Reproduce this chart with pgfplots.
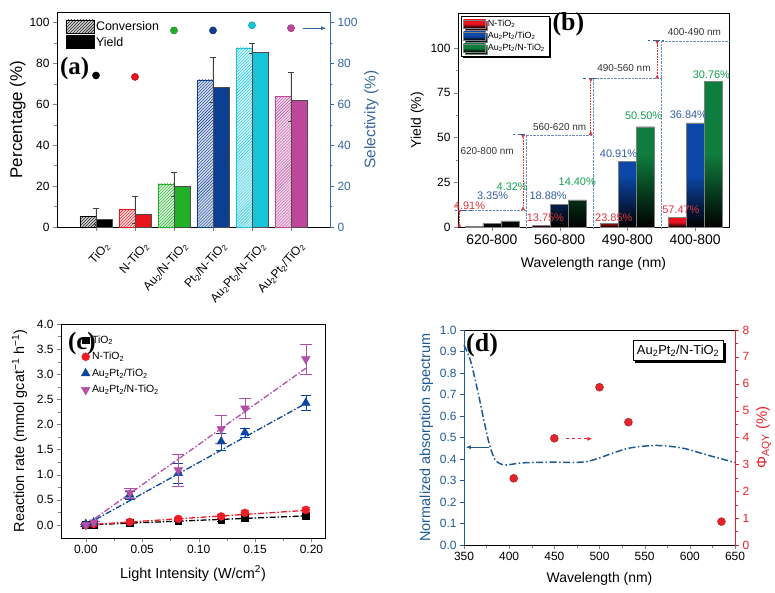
\documentclass[border=0pt]{standalone}
\usepackage{pgfplots}
\pgfplotsset{compat=1.18}
\usepackage{fontspec}
\setmainfont{Liberation Sans}
\newfontfamily\plfont{Liberation Serif}
\usetikzlibrary{patterns,shadows,arrows.meta}
\newcommand{\s}[1]{\textsubscript{#1}}
\newcommand{\fs}[1]{\fontsize{#1}{#1}\selectfont}

\definecolor{aRed}{RGB}{232,22,27}
\definecolor{aGreen}{RGB}{34,176,40}
\definecolor{aNavy}{RGB}{12,62,145}
\definecolor{aCyan}{RGB}{24,196,218}
\definecolor{aMag}{RGB}{190,70,155}
\definecolor{selBlue}{RGB}{52,102,160}
\definecolor{bRed}{RGB}{230,20,30}
\definecolor{bBlue}{RGB}{12,72,170}
\definecolor{bGreen}{RGB}{14,125,62}
\definecolor{tRed}{RGB}{226,50,60}
\definecolor{tBlue}{RGB}{50,95,165}
\definecolor{tGreen}{RGB}{20,160,80}
\definecolor{lvl}{RGB}{110,140,185}
\definecolor{cPink}{RGB}{178,80,168}
\definecolor{cBlue}{RGB}{10,70,160}
\definecolor{cRed}{RGB}{238,28,36}
\definecolor{dBlue}{RGB}{30,90,150}
\definecolor{dRed}{RGB}{230,35,43}

\pgfplotsset{
  every axis/.append style={scale only axis, tick align=outside, clip=false,
    tick label style={font=\fs{12}}, label style={font=\fs{14}},
    /pgf/number format/assume math mode=true,
    major tick length=4bp, minor tick length=2.5bp},
  conv/.style={ybar, bar width=16bp, bar shift=-8bp, draw=#1, fill=#1!20,
    postaction={pattern=north east lines, pattern color=#1},
    error bars/.cd, y dir=both, y explicit,
    error bar style={black!75}, error mark options={rotate=90, mark size=3bp, black!75}},
  yld/.style={ybar, bar width=16bp, bar shift=8bp, draw=black!70, fill=#1},
  gbar/.style={ybar, bar width=18bp, draw=black!50, top color=#1, bottom color=black, middle color=#1},
  ballm/.style={only marks, mark=*, mark options={fill=#1, draw=#1!70!black, line width=0.4bp}},
  fitl/.style={forget plot, #1, line width=1.3bp, dash pattern=on 6bp off 2bp on 1.5bp off 2bp},
}

\begin{document}
\begin{tikzpicture}
\useasboundingbox (0,0) rectangle (775bp,593bp);

% ---------------- (a) ----------------
\begin{axis}[at={(57bp,366bp)}, anchor=south west, width=273bp, height=215bp,
  xmin=0, xmax=7, ymin=0, ymax=105, separate axis lines,
  xtick={1,...,6}, xtick pos=bottom, ytick={0,20,...,100}, ytick pos=left, minor y tick num=1,
  xticklabels={TiO\s2, N-TiO\s2, Au\s2/N-TiO\s2, Pt\s2/N-TiO\s2, Au\s2Pt\s2/N-TiO\s2, Au\s2Pt\s2/TiO\s2},
  xticklabel style={rotate=48, anchor=north east, font=\fs{12}, yshift=-9bp, xshift=1bp},
  ylabel={Percentage (\%)}, ylabel style={font=\fs{17}, yshift=-3bp},
  legend style={at={(0.02,0.975)}, anchor=north west, draw=none, fill=none, font=\fs{12.5}, row sep=1bp},
  legend cell align=left]
\addlegendimage{legend image code/.code={\draw[black, fill=black!20, postaction={pattern=north east lines}] (0bp,-6bp) rectangle (28bp,7bp);}}
\addlegendentry{Conversion}
\addlegendimage{legend image code/.code={\fill[black] (0bp,-6bp) rectangle (28bp,7bp);}}
\addlegendentry{Yield}
\addplot[conv=black] coordinates {(1,5.2) +- (0,3.8)};
\addplot[yld=black] coordinates {(1,3.9)};
\addplot[conv=aRed] coordinates {(2,8.5) +- (0,6.5)};
\addplot[yld=aRed] coordinates {(2,6.4)};
\addplot[conv=aGreen] coordinates {(3,21) +- (0,6)};
\addplot[yld=aGreen] coordinates {(3,19.9)};
\addplot[conv=aNavy] coordinates {(4,71.9) +- (0,11)};
\addplot[yld=aNavy] coordinates {(4,68.3)};
\addplot[conv=aCyan] coordinates {(5,87.5) +- (0,2.5)};
\addplot[yld=aCyan] coordinates {(5,85.6)};
\addplot[conv=aMag] coordinates {(6,63.8) +- (0,12)};
\addplot[yld=aMag] coordinates {(6,61.9)};
\node[font=\plfont\bfseries\fs{25}] at (axis cs:0.45,77.5) {(a)};
\end{axis}
\begin{axis}[at={(57bp,366bp)}, anchor=south west, width=273bp, height=215bp,
  xmin=0, xmax=7, ymin=0, ymax=105, axis x line=none, axis y line*=right,
  ytick={0,20,...,100}, minor y tick num=1,
  y axis line style={selBlue}, ytick style={selBlue}, yticklabel style={selBlue},
  ylabel={Selectivity (\%)}, ylabel style={selBlue, font=\fs{15.5}}]
\addplot[ballm=black, mark size=3.6bp] coordinates {(1,74)};
\addplot[ballm=aRed, mark size=3.6bp] coordinates {(2,73.3)};
\addplot[ballm=aGreen, mark size=3.6bp] coordinates {(3,96)};
\addplot[ballm=aNavy, mark size=3.6bp] coordinates {(4,96)};
\addplot[ballm=aCyan, mark size=3.6bp] coordinates {(5,98.5)};
\addplot[ballm=aMag, mark size=3.6bp] coordinates {(6,97.1)};
\draw[selBlue, thick, -{Latex[length=5bp,width=4bp]}] (axis cs:6.3,97.1) -- (axis cs:6.9,97.1);
\end{axis}

% ---------------- (b) ----------------
\begin{axis}[at={(458bp,366bp)}, anchor=south west, width=271bp, height=214bp,
  xmin=0.5, xmax=4.5, ymin=0, ymax=119.5,
  xtick={1,2,3,4}, xticklabels={620-800,560-800,490-800,400-800}, xtick pos=bottom, minor x tick num=1,
  ytick={0,25,50,75,100}, ytick pos=left, minor y tick num=1,
  xticklabel style={font=\fs{14}},
  xlabel={Wavelength range (nm)}, ylabel={Yield (\%)},
  xlabel style={yshift=-6bp},
  legend style={at={(0.012,0.985)}, anchor=north west, font=\fs{9}, draw=black,
    drop shadow={shadow xshift=2bp, shadow yshift=-2bp, fill=black, opacity=1},
    row sep=0bp, inner sep=2bp},
  legend image code/.code={\draw[#1] (0bp,-3.5bp) rectangle (22bp,4.5bp);},
  legend cell align=left]
\draw[lvl, densely dotted] (axis cs:0.5,9.5) -- (axis cs:1.5,9.5);
\draw[lvl, densely dotted] (axis cs:1.5,0) -- (axis cs:1.5,51.5) -- (axis cs:2.5,51.5);
\draw[lvl, densely dotted] (axis cs:2.5,0) -- (axis cs:2.5,83) -- (axis cs:3.5,83);
\draw[lvl, densely dotted] (axis cs:3.5,0) -- (axis cs:3.5,104) -- (axis cs:4.5,104);
\addplot[gbar=bRed, bar shift=-18bp] coordinates {(1,0.3) (2,0.8) (3,2.2) (4,5.4)};
\addlegendentry{N-TiO\s2}
\addplot[gbar=bBlue, bar shift=0bp] coordinates {(1,1.9) (2,12.8) (3,36.5) (4,58.1)};
\addlegendentry{Au\s2Pt\s2/TiO\s2}
\addplot[gbar=bGreen, bar shift=18bp] coordinates {(1,3.4) (2,15.1) (3,56) (4,81.2)};
\addlegendentry{Au\s2Pt\s2/N-TiO\s2}
\tikzset{rarr/.style={tRed, densely dotted, semithick, {Latex[reversed,length=4bp,width=4bp]}-{Latex[reversed,length=4bp,width=4bp]}}}
\draw[rarr] (axis cs:0.52,0) -- (axis cs:0.52,9.5);
\draw[rarr] (axis cs:1.46,9.5) -- (axis cs:1.46,51.5);
\draw[rarr] (axis cs:2.46,51.5) -- (axis cs:2.46,83);
\draw[rarr] (axis cs:3.44,83) -- (axis cs:3.44,104);
\tikzset{bdash/.style={tBlue, thick, dash pattern=on 2.5bp off 3bp on 7bp off 2bp}}
\draw[bdash] (axis cs:0.45,9.5) -- (axis cs:0.7,9.5);
\draw[bdash] (axis cs:1.31,51.5) -- (axis cs:1.52,51.5);
\draw[bdash] (axis cs:2.35,83) -- (axis cs:2.56,83);
\draw[bdash] (axis cs:3.3,104) -- (axis cs:3.54,104);
\tikzset{rng/.style={font=\fs{10}, text=black!80}}
\node[rng] at (axis cs:0.93,42.5) {620-800 nm};
\node[rng] at (axis cs:2.0,56) {560-620 nm};
\node[rng] at (axis cs:2.95,89) {490-560 nm};
\node[rng] at (axis cs:3.99,109) {400-490 nm};
\tikzset{pct/.style={font=\fs{11}}}
\node[pct, text=tRed] at (axis cs:0.67,11.7) {4.91\%};
\node[pct, text=tBlue] at (axis cs:1.01,17.3) {3.35\%};
\node[pct, text=tGreen] at (axis cs:1.30,22.4) {4.32\%};
\node[pct, text=tRed] at (axis cs:1.79,5) {13.75\%};
\node[pct, text=tBlue] at (axis cs:1.83,17.3) {18.88\%};
\node[pct, text=tGreen] at (axis cs:2.26,25) {14.40\%};
\node[pct, text=tRed] at (axis cs:2.80,5) {23.85\%};
\node[pct, text=tBlue] at (axis cs:2.87,40.8) {40.91\%};
\node[pct, text=tGreen] at (axis cs:3.24,62) {50.50\%};
\node[pct, text=tRed] at (axis cs:3.79,9.5) {57.47\%};
\node[pct, text=tBlue] at (axis cs:3.90,62.6) {36.84\%};
\node[pct, text=tGreen] at (axis cs:4.24,85) {30.76\%};
\node[font=\plfont\bfseries\fs{26}] at (axis cs:2.13,113) {(b)};
\end{axis}

% ---------------- (c) ----------------
\begin{axis}[at={(61bp,55bp)}, anchor=south west, width=264bp, height=214bp,
  xmin=-0.022, xmax=0.212, ymin=-0.26, ymax=4,
  xtick={0,0.05,0.1,0.15,0.2}, ytick={0,0.5,1,1.5,2,2.5,3,3.5,4},
  minor x tick num=1, minor y tick num=1, xtick pos=bottom, ytick pos=left,
  scaled x ticks=false,
  xticklabel={\pgfmathprintnumber[fixed,fixed zerofill,precision=2]{\tick}},
  yticklabel={\pgfmathprintnumber[fixed,fixed zerofill,precision=1]{\tick}},
  xlabel={Light Intensity (W/cm\textsuperscript{2})},
  ylabel={Reaction rate (mmol gcat\textsuperscript{−1} h\textsuperscript{−1})},
  xlabel style={font=\fs{14.5}, yshift=-5bp}, ylabel style={font=\fs{14.5}, yshift=3bp},
  legend style={at={(0.065,0.965)}, anchor=north west, draw=none, fill=none, font=\fs{10.5}, row sep=3.5bp},
  legend cell align=left]
\addplot[fitl=black] coordinates {(0,0) (0.195,0.18)};
\addplot[fitl=cRed] coordinates {(0,0) (0.195,0.29)};
\addplot[fitl=cBlue] coordinates {(0,0) (0.195,2.42)};
\addplot[fitl=cPink] coordinates {(0,0) (0.195,3.12)};
\addplot[only marks, black, mark=square*, mark size=3.3bp,
  error bars/.cd, y dir=both, y explicit, error mark options={rotate=90, mark size=4bp, black}]
  coordinates {(0,0) +- (0,0.02) (0.007,0.01) +- (0,0.02) (0.039,0.05) +- (0,0.02) (0.082,0.09) +- (0,0.02)
               (0.12,0.11) +- (0,0.03) (0.141,0.14) +- (0,0.03) (0.195,0.17) +- (0,0.03)};
\addlegendentry{TiO\s2}
\addplot[only marks, cRed, mark=*, mark size=4bp,
  error bars/.cd, y dir=both, y explicit, error mark options={rotate=90, mark size=4bp, cRed}]
  coordinates {(0,0) +- (0,0.02) (0.007,0.02) +- (0,0.02) (0.039,0.06) +- (0,0.03) (0.082,0.12) +- (0,0.03)
               (0.12,0.17) +- (0,0.04) (0.141,0.24) +- (0,0.05) (0.195,0.30) +- (0,0.05)};
\addlegendentry{N-TiO\s2}
\addplot[only marks, cBlue, mark=triangle*, mark size=5bp,
  error bars/.cd, y dir=both, y explicit, error mark options={rotate=90, mark size=5bp, cBlue}]
  coordinates {(0,0.02) +- (0,0.02) (0.007,0.05) +- (0,0.03) (0.039,0.60) +- (0,0.08) (0.082,1.03) +- (0,0.2)
               (0.12,1.66) +- (0,0.17) (0.141,1.84) +- (0,0.09) (0.195,2.43) +- (0,0.15)};
\addlegendentry{Au\s2Pt\s2/TiO\s2}
\addplot[only marks, cPink, mark=triangle*, mark size=5bp, mark options={rotate=180},
  error bars/.cd, y dir=both, y explicit, error mark options={rotate=90, mark size=6bp, cPink}]
  coordinates {(0,0) +- (0,0.02) (0.007,0.05) +- (0,0.03) (0.039,0.64) +- (0,0.1) (0.082,1.09) +- (0,0.32)
               (0.12,1.91) +- (0,0.28) (0.141,2.32) +- (0,0.2) (0.195,3.30) +- (0,0.3)};
\addlegendentry{Au\s2Pt\s2/N-TiO\s2}
\node[font=\plfont\bfseries\fs{25}] at (axis cs:-0.0035,3.62) {(c)};
\end{axis}

% ---------------- (d) ----------------
\begin{axis}[at={(464bp,48bp)}, anchor=south west, width=271bp, height=215bp,
  xmin=350, xmax=650, ymin=0, ymax=1, separate axis lines,
  xtick={350,400,...,650}, minor x tick num=1, xtick pos=bottom,
  ytick={0,0.1,0.2,0.3,0.4,0.5,0.6,0.7,0.8,0.9,1}, ytick pos=left,
  yticklabel={\pgfmathprintnumber[fixed,fixed zerofill,precision=1]{\tick}},
  y axis line style={dBlue}, ytick style={dBlue}, yticklabel style={dBlue}, ylabel style={dBlue, font=\fs{14.5}},
  xlabel={Wavelength (nm)}, ylabel={Normalized absorption spectrum}, xlabel style={yshift=-5bp}]
\addplot[dBlue, line width=1.5bp, smooth, dash pattern=on 7bp off 2.5bp on 1.5bp off 2.5bp] coordinates {
  (350,0.93) (357,0.86) (365,0.72) (372,0.58) (378,0.47) (384,0.40) (390,0.378) (397,0.372)
  (410,0.380) (425,0.384) (450,0.385) (470,0.384) (486,0.388) (500,0.405) (515,0.428)
  (530,0.448) (545,0.458) (563,0.463) (580,0.458) (595,0.448) (610,0.430) (625,0.412) (640,0.395) (650,0.384)};
\draw[dBlue, thick, -{Latex[length=5bp,width=4bp]}] (axis cs:378,0.455) -- (axis cs:352,0.455);
\node[draw=black, fill=white, font=\fs{13}, inner sep=4bp,
  drop shadow={shadow xshift=2.5bp, shadow yshift=-2.5bp, fill=black, opacity=1}]
  at (axis cs:587,0.905) {Au\s2Pt\s2/N-TiO\s2};
\node[font=\plfont\bfseries\fs{26}] at (axis cs:370,0.93) {(d)};
\end{axis}
\begin{axis}[at={(464bp,48bp)}, anchor=south west, width=271bp, height=215bp,
  xmin=350, xmax=650, ymin=0, ymax=8, axis x line=none, axis y line*=right,
  ytick={0,1,...,8}, minor y tick num=1,
  y axis line style={dRed}, ytick style={dRed}, yticklabel style={dRed},
  ylabel={Φ\s{AQY} (\%)}, ylabel style={dRed, font=\fs{15}}]
\addplot[ballm=dRed, mark size=4bp]
  coordinates {(405,2.48) (450,3.97) (500,5.87) (532,4.57) (635,0.87)};
\draw[dRed, thick, dashed, -{Latex[length=5bp,width=4bp]}] (axis cs:463,3.95) -- (axis cs:492,3.95);
\end{axis}
\end{tikzpicture}
\end{document}
